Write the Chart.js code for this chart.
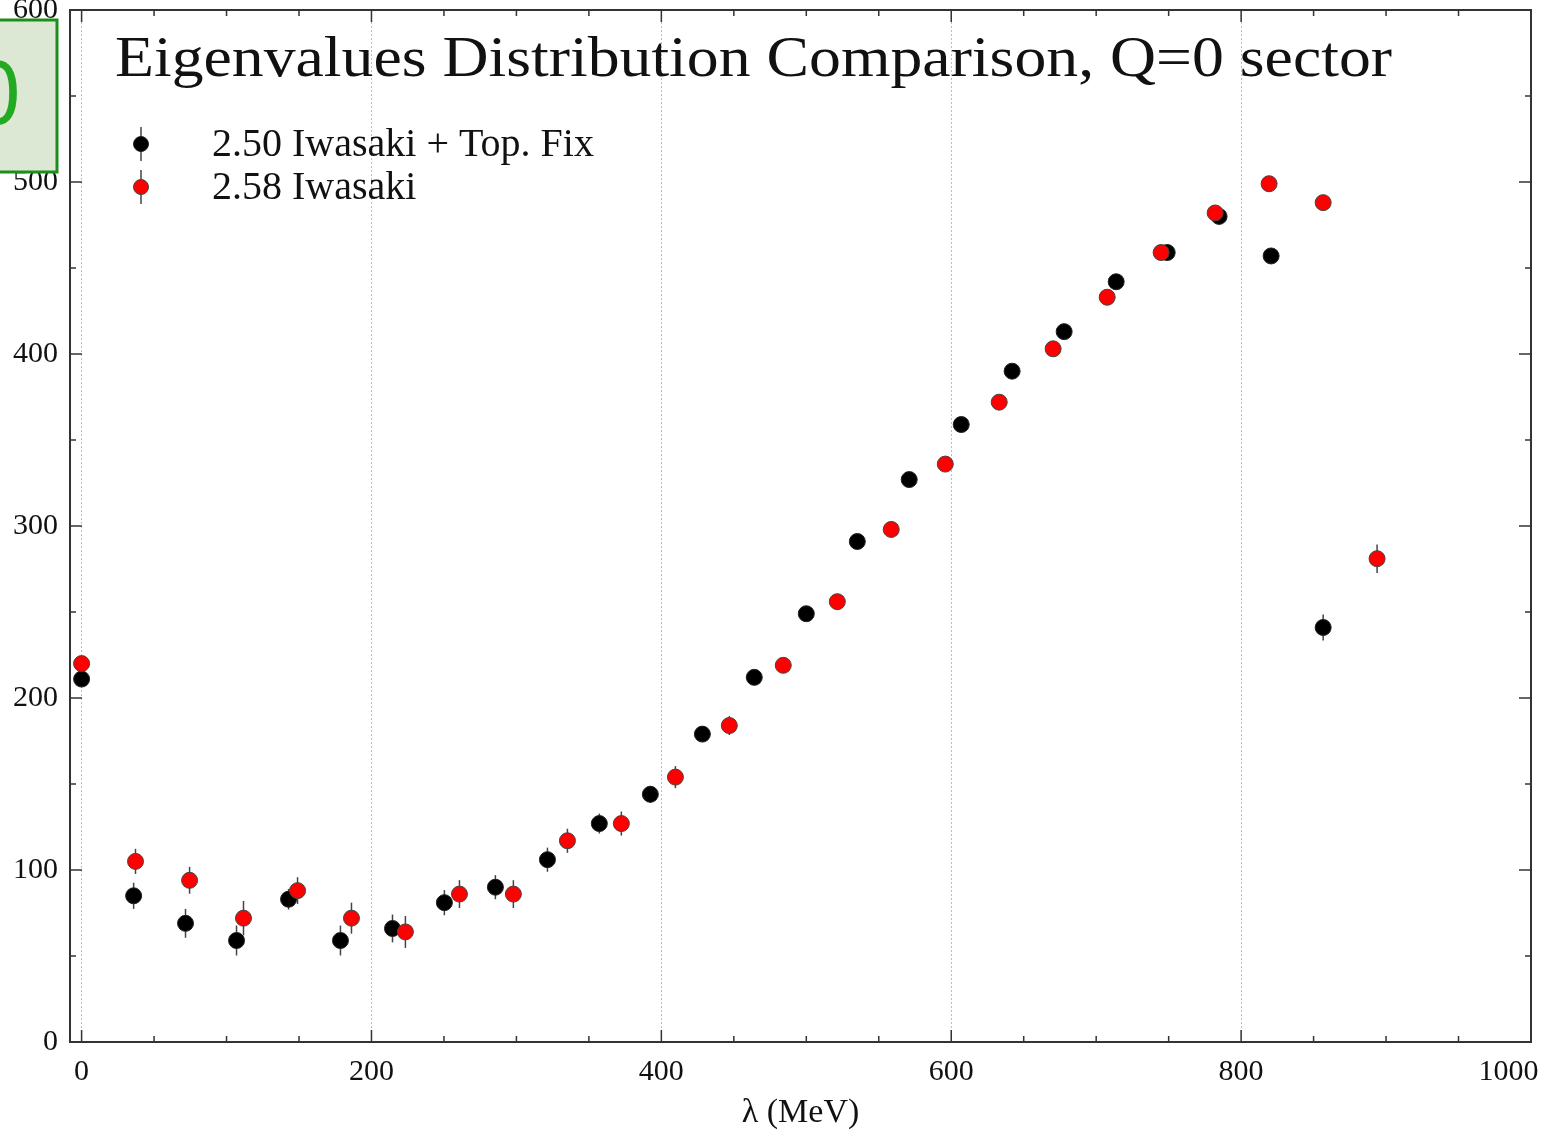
<!DOCTYPE html>
<html>
<head>
<meta charset="utf-8">
<script src="https://cdn.jsdelivr.net/npm/chart.js@4.4.1/dist/chart.umd.min.js"></script>
<style>
  body { margin: 0; background: #fff; }
  canvas { display: block; }
</style>
</head>
<body>
<canvas id="eigChart" width="1547" height="1132"></canvas>
<script>
// data
const seriesLabels = ['2.50 Iwasaki + Top. Fix', '2.58 Iwasaki'];
const xBlack = [0, 35.9, 71.7, 106.9, 142.8, 178.6, 214.5, 250.3, 285.5, 321.4, 357.2, 392.4, 428.3, 464.1, 500.0, 535.2, 571.0, 606.9, 642.0, 677.9, 713.8, 749.0, 784.8, 820.7, 856.6];
const yBlack = [211, 85, 69, 59, 83, 59, 66, 81, 90, 106, 127, 144, 179, 212, 249, 291, 327, 359, 390, 413, 442, 459, 480, 457, 241];
const eBlack = [3, 7.6, 8.4, 8.7, 6, 8.7, 8.1, 7.3, 7, 7, 5.8, 5, 4, 4, 4, 4, 4, 4, 4, 4, 4, 4, 4, 4, 7.6];
const xRed = [0, 37.2, 74.5, 111.7, 149.0, 186.2, 223.4, 260.7, 297.9, 335.2, 372.4, 409.7, 446.9, 484.1, 521.4, 558.6, 595.9, 633.1, 670.3, 707.6, 744.8, 782.1, 819.3, 856.6, 893.8];
const yRed = [220, 105, 94, 72, 88, 72, 64, 86, 86, 117, 127, 154, 184, 219, 256, 298, 336, 372, 403, 433, 459, 482, 499, 488, 281];
const eRed = [3, 7.3, 7.8, 10, 7.8, 9, 9.3, 8.1, 8.1, 7, 7, 6.4, 5.5, 4, 4, 4, 4, 4, 4, 4, 4, 4, 4, 4, 8.3];
const xTicks = [0, 50, 100, 150, 200, 250, 300, 350, 400, 450, 500, 550, 600, 650, 700, 750, 800, 850, 900, 950, 1000];
const yTicks = [0, 50, 100, 150, 200, 250, 300, 350, 400, 450, 500, 550, 600];
const chartTitle = 'Eigenvalues Distribution Comparison, Q=0 sector';
const xTitle = 'λ (MeV)';

const SERIF = '"Liberation Serif", "DejaVu Serif", serif';

function toPoints(xs, ys, es) {
    return xs.map((x, i) => ({ x: x, y: ys[i], err: es[i] }));
}

const errorBars = {
    id: 'errorBars',
    beforeDatasetsDraw(chart) {
        const ctx = chart.ctx;
        const ys = chart.scales.y;
        ctx.save();
        ctx.strokeStyle = '#444';
        ctx.lineWidth = 1.5;
        chart.data.datasets.forEach((ds, di) => {
            const meta = chart.getDatasetMeta(di);
            meta.data.forEach((pt, i) => {
                const d = ds.data[i];
                ctx.beginPath();
                ctx.moveTo(pt.x, ys.getPixelForValue(d.y - d.err));
                ctx.lineTo(pt.x, ys.getPixelForValue(d.y + d.err));
                ctx.stroke();
            });
        });
        ctx.restore();
    }
};

const frameAndDecor = {
    id: 'frameAndDecor',
    afterDraw(chart) {
        const ctx = chart.ctx;
        const a = chart.chartArea;
        const xs = chart.scales.x, ys = chart.scales.y;
        ctx.save();

        // inward tick marks on all four sides
        ctx.strokeStyle = '#333';
        ctx.lineWidth = 1.5;
        xTicks.forEach(v => {
            const px = xs.getPixelForValue(v);
            const len = v % 200 === 0 ? 12 : 6;
            ctx.beginPath();
            ctx.moveTo(px, a.bottom); ctx.lineTo(px, a.bottom - len);
            ctx.moveTo(px, a.top); ctx.lineTo(px, a.top + len);
            ctx.stroke();
        });
        yTicks.forEach(v => {
            const py = ys.getPixelForValue(v);
            const len = v % 100 === 0 ? 12 : 6;
            ctx.beginPath();
            ctx.moveTo(a.left, py); ctx.lineTo(a.left + len, py);
            ctx.moveTo(a.right, py); ctx.lineTo(a.right - len, py);
            ctx.stroke();
        });

        // frame
        ctx.lineWidth = 2;
        ctx.strokeRect(a.left, a.top, a.right - a.left, a.bottom - a.top);

        // title inside the plot, stretched to the original width
        ctx.fillStyle = '#111';
        ctx.font = '58px ' + SERIF;
        ctx.textAlign = 'left';
        ctx.textBaseline = 'alphabetic';
        const tw = ctx.measureText(chartTitle).width;
        ctx.save();
        ctx.translate(115, 76);
        ctx.scale(1277 / tw, 1);
        ctx.fillText(chartTitle, 0, 0);
        ctx.restore();

        // legend
        const legendY = [144, 187];
        chart.data.datasets.forEach((ds, i) => {
            const y = legendY[i];
            ctx.strokeStyle = '#444';
            ctx.lineWidth = 1.5;
            ctx.beginPath();
            ctx.moveTo(141, y - 17); ctx.lineTo(141, y + 17);
            ctx.stroke();
            ctx.beginPath();
            ctx.arc(141, y, 7.5, 0, Math.PI * 2);
            ctx.fillStyle = ds.backgroundColor;
            ctx.fill();
            ctx.lineWidth = 1;
            ctx.strokeStyle = ds.borderColor;
            ctx.stroke();
            ctx.fillStyle = '#111';
            ctx.font = '40px ' + SERIF;
            ctx.textAlign = 'left';
            ctx.textBaseline = 'middle';
            ctx.fillText(ds.label, 212, y + 1);
        });

        // green overlay box at top left
        ctx.fillStyle = '#dde8d4';
        ctx.fillRect(-2, 20, 59, 152);
        ctx.strokeStyle = '#1a8f1a';
        ctx.lineWidth = 3;
        ctx.strokeRect(-2, 20, 59, 152);
        ctx.fillStyle = '#22aa22';
        ctx.font = '86px "DejaVu Sans Condensed", "Liberation Sans", sans-serif';
        ctx.textAlign = 'right';
        ctx.textBaseline = 'alphabetic';
        ctx.fillText('0', 22, 124);

        ctx.restore();
    }
};

window.addEventListener('DOMContentLoaded', () => {
    const ctx = document.getElementById('eigChart').getContext('2d');

    new Chart(ctx, {
        type: 'scatter',
        data: {
            datasets: [{
                label: seriesLabels[0],
                data: toPoints(xBlack, yBlack, eBlack),
                backgroundColor: '#000000',
                borderColor: '#222222',
                borderWidth: 1,
                pointRadius: 8,
                pointHoverRadius: 8,
                order: 1
            }, {
                label: seriesLabels[1],
                data: toPoints(xRed, yRed, eRed),
                backgroundColor: '#ff0000',
                borderColor: '#444444',
                borderWidth: 1,
                pointRadius: 8,
                pointHoverRadius: 8,
                order: 0
            }]
        },
        plugins: [errorBars, frameAndDecor],
        options: {
            responsive: false,
            animation: false,
            layout: { padding: { top: 10, right: 16, left: 0, bottom: 0 } },
            plugins: {
                legend: { display: false },
                tooltip: { enabled: false }
            },
            scales: {
                x: {
                    type: 'linear',
                    min: -8,
                    max: 1000,
                    afterBuildTicks: s => { s.ticks = xTicks.map(v => ({ value: v })); },
                    afterFit: s => { s.height = 90; s.paddingLeft = 0; s.paddingRight = 0; },
                    ticks: {
                        autoSkip: false,
                        maxRotation: 0,
                        padding: 12,
                        color: '#111',
                        font: { family: SERIF, size: 30 },
                        // last label pushed left so it stays on the page
                        callback: v => (v === 1000 ? '1000\u2002\u2002\u2002' : (v % 200 === 0 ? String(v) : ''))
                    },
                    grid: {
                        drawTicks: false,
                        color: c => (c.tick && c.tick.value % 200 === 0 ? '#bdbdbd' : 'rgba(0,0,0,0)'),
                        lineWidth: 1
                    },
                    border: { display: false, dash: [2, 2] },
                    title: {
                        display: true,
                        text: xTitle,
                        color: '#111',
                        font: { family: SERIF, size: 34, lineHeight: 1.1 },
                        padding: { top: 0, bottom: 0 }
                    }
                },
                y: {
                    type: 'linear',
                    min: 0,
                    max: 600,
                    afterBuildTicks: s => { s.ticks = yTicks.map(v => ({ value: v })); },
                    afterFit: s => { s.width = 70; s.paddingTop = 0; s.paddingBottom = 0; },
                    ticks: {
                        autoSkip: false,
                        padding: 12,
                        color: '#111',
                        font: { family: SERIF, size: 30 },
                        callback: v => (v % 100 === 0 ? String(v) : '')
                    },
                    grid: { display: false, drawTicks: false },
                    border: { display: false }
                }
            }
        }
    });
});
</script>
</body>
</html>
